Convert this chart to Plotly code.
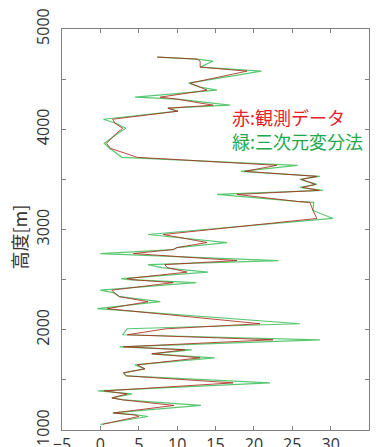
import plotly.graph_objects as go

# altitude [m] of each sample (top -> bottom)
alt_m = [4720, 4700, 4680, 4620, 4580, 4460, 4420, 4390, 4320, 4300,
         4240, 4210, 4180, 4100, 4060, 4010, 3960, 3860, 3810, 3720,
         3640, 3580, 3530, 3500, 3450, 3420, 3390, 3350, 3280, 3270,
         3190, 3110, 2950, 2870, 2820, 2800, 2760, 2690, 2650, 2620,
         2575, 2510, 2500, 2470, 2395, 2370, 2330, 2280, 2210, 2060,
         2010, 1950, 1900, 1830, 1800, 1760, 1720, 1650, 1610, 1570,
         1540, 1470, 1390, 1360, 1320, 1300, 1245, 1170, 1150, 1135,
         1060, 1050]

# observed (red)
obs = [7.4, 12.6, 13.0, 13.0, 19.1, 11.7, 13.0, 13.9, 7.8, 10.0,
       14.7, 8.8, 10.1, 1.6, 1.9, 2.9, 2.1, 0.8, 1.3, 4.8,
       23.0, 18.8, 28.2, 26.2, 28.0, 26.3, 28.5, 17.8, 25.6, 27.3,
       27.7, 28.2, 8.2, 13.9, 10.0, 9.5, 4.3, 17.8, 8.4, 8.7,
       11.3, 3.5, 4.0, 9.5, 1.5, 1.8, 2.5, 6.2, 0.9, 20.8,
       8.6, 3.5, 22.5, 3.0, 11.0, 6.7, 13.0, 4.8, 5.8, 3.0,
       3.4, 17.3, 0.5, 3.5, 1.5, 3.0, 9.6, 1.7, 4.5, 5.0,
       0.5, 0.3]

# 3D-Var analysis (green)
var3d = [7.4, 12.6, 14.7, 13.0, 21.0, 11.5, 13.0, 15.2, 4.5, 10.0,
         16.9, 8.8, 10.1, 0.4, 2.0, 3.3, 2.3, 0.5, 1.2, 2.8,
         25.7, 18.3, 28.6, 26.0, 28.2, 26.0, 29.0, 15.2, 25.6, 27.8,
         27.7, 30.3, 6.2, 16.5, 10.0, 9.5, 0.0, 23.2, 6.2, 8.0,
         14.0, 2.7, 3.6, 12.5, 0.0, 1.7, 2.5, 7.8, -0.4, 26.0,
         3.5, 2.9, 28.6, 2.5, 11.9, 6.7, 14.9, 4.5, 5.8, 3.0,
         3.4, 22.1, -0.3, 4.1, 1.5, 3.0, 13.1, 1.6, 4.7, 6.2,
         0.2, 0.0]

x_ticks = [-5, 0, 5, 10, 15, 20, 25, 30, 35]
y_ticks = [1000, 1500, 2000, 2500, 3000, 3500, 4000, 4500, 5000]
y_ticktext = ["1000", "", "2000", "", "3000", "", "4000", "", "5000"]

legend_obs = "赤:観測データ"
legend_var = "緑:三次元変分法"
y_title = "高度[m]"

fig = go.Figure()
fig.add_trace(go.Scatter(x=var3d, y=alt_m, mode="lines",
                         line=dict(color="rgb(90,200,115)", width=1.2),
                         showlegend=False))
fig.add_trace(go.Scatter(x=obs, y=alt_m, mode="lines",
                         line=dict(color="rgba(170,45,30,0.85)", width=1),
                         showlegend=False))

axis_common = dict(showline=True, linecolor="#808080", linewidth=1,
                   mirror="ticks", ticks="inside", ticklen=4,
                   tickcolor="#808080", showgrid=False, zeroline=False,
                   tickfont=dict(family="Open Sans, Noto Sans CJK JP", size=16,
                                 color="#333"))

fig.update_layout(
    width=376, height=447,
    margin=dict(l=62, r=7, t=29, b=17),
    paper_bgcolor="white", plot_bgcolor="white",
    xaxis=dict(range=[-5, 35], tickvals=x_ticks, automargin=False,
               **axis_common),
    yaxis=dict(range=[1000, 5000], tickvals=y_ticks, ticktext=y_ticktext,
               tickangle=-90, automargin=False, ticklabelstandoff=6,
               **axis_common),
    annotations=[
        dict(text=legend_obs, xref="paper", yref="paper", x=0.547, y=0.781,
             xanchor="left", yanchor="middle", showarrow=False,
             font=dict(family="Noto Sans CJK JP", size=18, color="#e8202a")),
        dict(text=legend_var, xref="paper", yref="paper", x=0.547, y=0.721,
             xanchor="left", yanchor="middle", showarrow=False,
             font=dict(family="Noto Sans CJK JP", size=18, color="#22a84a")),
        dict(text=y_title, xref="paper", yref="paper", x=-0.143, y=0.48,
             xanchor="center", yanchor="middle", showarrow=False, textangle=-90,
             font=dict(family="Noto Sans CJK JP", size=18, color="#333")),
    ],
)

fig.write_html("out.html")
